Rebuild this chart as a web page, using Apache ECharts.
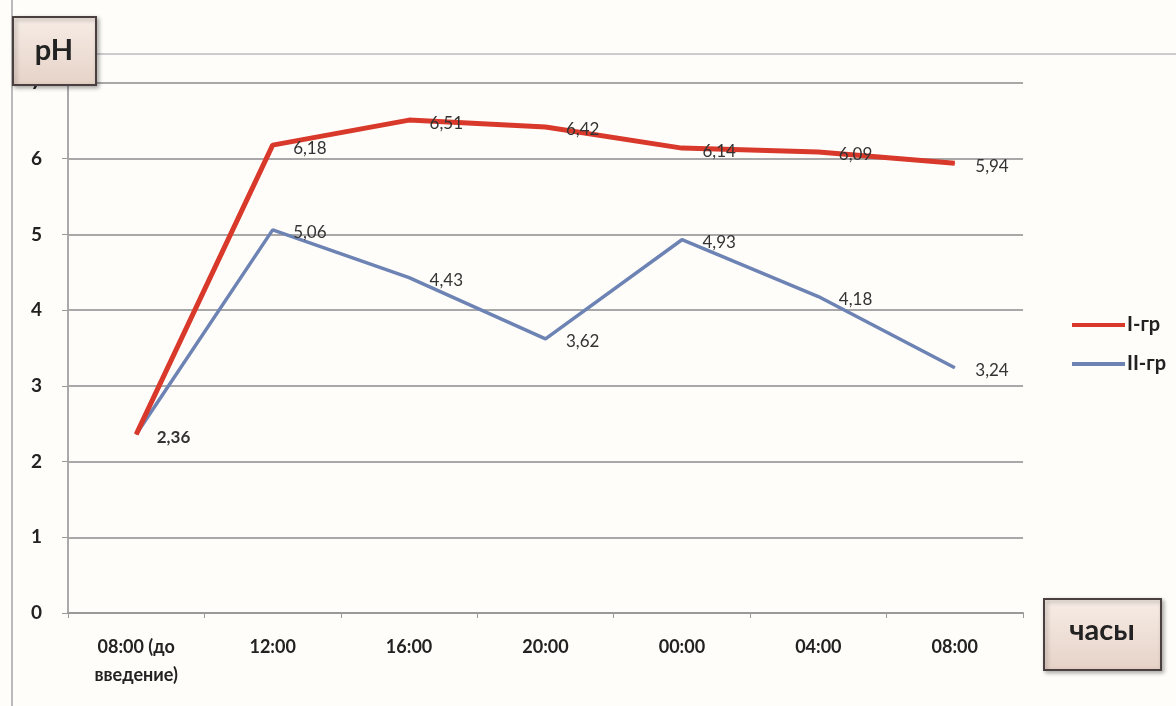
<!DOCTYPE html>
<html>
<head>
<meta charset="utf-8">
<script src="https://cdn.jsdelivr.net/npm/echarts@6/dist/echarts.min.js"></script>
<style>
  html, body { margin: 0; padding: 0; background: #fffdfa; }
  #chart { width: 1176px; height: 706px; }
</style>
</head>
<body>
<div id="chart"></div>
<script>
// время замера
var categories = ['08:00 (до\nвведение)', '12:00', '16:00', '20:00', '00:00', '04:00', '08:00'];
// pH по группам
var group1 = [2.36, 6.18, 6.51, 6.42, 6.14, 6.09, 5.94];
var group2 = [2.36, 5.06, 4.43, 3.62, 4.93, 4.18, 3.24];
var seriesNames = ['I-гр', 'II-гр'];
var yTicks = [0, 1, 2, 3, 4, 5, 6, 7];

var chart = echarts.init(document.getElementById('chart'));

function fmt(p) {
  return String(p.value).replace('.', ',');
}

// первая точка общая - подпись одна, жирная
function withLabels(arr, hideFirst) {
  return arr.map(function (v, i) {
    if (i === 0) {
      return hideFirst ? { value: v, label: { show: false } }
                       : { value: v, label: { fontWeight: 'bold' } };
    }
    return v;
  });
}

var boxStyle = {
  fill: new echarts.graphic.LinearGradient(0, 0, 0, 1, [
    { offset: 0, color: '#f7ede6' },
    { offset: 1, color: '#e6d2c7' }
  ]),
  stroke: '#4a4040',
  lineWidth: 2,
  shadowBlur: 4,
  shadowOffsetX: 2,
  shadowOffsetY: 2,
  shadowColor: 'rgba(0,0,0,0.3)'
};

var labelStyle = {
  show: true, position: 'right', distance: 20, offset: [0, 3],
  fontSize: 17, color: '#333', formatter: fmt
};

chart.setOption({
  backgroundColor: '#fffdfa',
  textStyle: { fontFamily: 'Lato, "Open Sans", sans-serif' },
  grid: { left: 68, right: 153, top: 83, bottom: 93 },
  legend: {
    orient: 'vertical',
    left: 1067,
    top: 310,
    itemWidth: 53,
    itemHeight: 4,
    itemGap: 19,
    icon: 'rect',
    data: seriesNames,
    textStyle: { fontSize: 20, fontWeight: 'bold', color: '#222', padding: [0, 0, 0, -3] }
  },
  xAxis: {
    type: 'category',
    data: categories,
    boundaryGap: true,
    axisLine: { lineStyle: { color: '#999', width: 2 } },
    axisTick: { show: true, length: 5, lineStyle: { color: '#999' } },
    axisLabel: {
      color: '#222', fontSize: 18, fontWeight: 'bold', margin: 20,
      lineHeight: 28, interval: 0
    }
  },
  yAxis: {
    type: 'value',
    min: 0,
    max: 7,
    interval: 1,
    axisLine: { show: true, lineStyle: { color: '#aaa', width: 2 } },
    axisTick: { show: true, length: 6, lineStyle: { color: '#999' } },
    axisLabel: {
      color: '#222', fontSize: 19, fontWeight: 'bold', margin: 26,
      formatter: function (v) { return yTicks.indexOf(v) >= 0 ? v : ''; }
    },
    splitLine: { lineStyle: { color: '#a8a8a8', width: 2 } }
  },
  series: [
    {
      name: seriesNames[0],
      type: 'line',
      data: withLabels(group1, true),
      symbol: 'circle',
      symbolSize: 1,
      showSymbol: true,
      color: '#d8392b',
      lineStyle: { width: 5, color: '#d8392b' },
      label: labelStyle,
      z: 3
    },
    {
      name: seriesNames[1],
      type: 'line',
      data: withLabels(group2, false),
      symbol: 'circle',
      symbolSize: 1,
      showSymbol: true,
      color: '#6c83b3',
      lineStyle: { width: 3.5, color: '#6c83b3' },
      label: labelStyle,
      z: 2
    }
  ],
  graphic: [
    { type: 'line', shape: { x1: 12, y1: 0, x2: 12, y2: 706 }, style: { stroke: '#bbb', lineWidth: 2 } },
    { type: 'line', shape: { x1: 95, y1: 54, x2: 1176, y2: 54 }, style: { stroke: '#ccc', lineWidth: 2 } },
    {
      type: 'group', left: 12, top: 16, z: 100,
      children: [
        { type: 'rect', z: 100, shape: { x: 0, y: 0, width: 83, height: 68 }, style: boxStyle },
        { type: 'text', z: 101, x: 41, y: 34, style: { text: 'pH', fontSize: 29, fontWeight: 'bold', fill: '#222',
          align: 'center', verticalAlign: 'middle', fontFamily: 'Lato, sans-serif' } }
      ]
    },
    {
      type: 'group', left: 1043, top: 598, z: 100,
      children: [
        { type: 'rect', z: 100, shape: { x: 0, y: 0, width: 117, height: 71 }, style: boxStyle },
        { type: 'text', z: 101, x: 58, y: 32, style: { text: 'часы', fontSize: 29, fontWeight: 'bold', fill: '#222',
          align: 'center', verticalAlign: 'middle', fontFamily: 'Lato, sans-serif' } }
      ]
    }
  ]
});
</script>
</body>
</html>
